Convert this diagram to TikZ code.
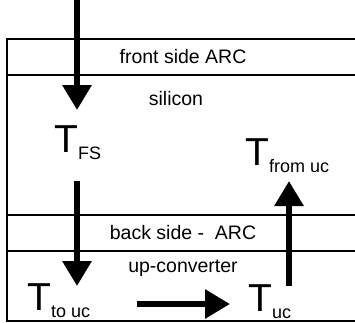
\documentclass[tikz,border=0pt]{standalone}
\usepackage{fontspec}
\setmainfont{Liberation Sans}
\usetikzlibrary{arrows.meta}
\tikzset{lb/.style={font=\fontsize{19.5}{19.5}\selectfont, inner sep=0pt}}
\tikzset{tt/.style={anchor=base west, inner sep=0pt, font=\fontsize{39}{39}\selectfont}}
\tikzset{ar/.style={line width=6pt, -{Triangle[width=28pt,length=25pt]}}}
\tikzset{ly/.style={line width=1.2pt}}
\newcommand{\tsub}[1]{\raisebox{-7pt}{\fontsize{18}{18}\selectfont #1}}

\begin{document}
\begin{tikzpicture}[x=1pt,y=-1pt]
                \useasboundingbox (0,0) rectangle (355,322);
                % layers
                \draw[ly] (355,39) -- (7,39) -- (7,321) -- (355,321);
                \draw[ly] (7,75) -- (355,75);
                \draw[ly] (7,215) -- (355,215);
                \draw[ly] (7,251) -- (355,251);
                \node[lb] (arcf) at (183,57) {front side ARC};
                \node[lb] (si) at (176,99) {silicon};
                \node[lb] (arcb) at (183,233) {back side -\ \ ARC};
                \node[lb] (uc) at (183,268) {up-converter};
                % T labels
                \node[tt] (tfs) at (54,152) {T\tsub{FS}};
                \node[tt] (tfrom) at (245,165) {T\tsub{from uc}};
                \node[tt] (tto) at (27,310) {T\tsub{to uc}};
                \node[tt] (tuc) at (248,311) {T\tsub{uc}};
                % arrows
                \coordinate (in) at (77,0);
                \coordinate (a1) at (77,110);
                \coordinate (a2s) at (77,181);
                \coordinate (a2e) at (77,286);
                \coordinate (a3s) at (289,286);
                \coordinate (a3e) at (289,181);
                \coordinate (a4s) at (137,304);
                \coordinate (a4e) at (230,304);
                \draw[ar] (in) -- (a1);
                \draw[ar] (a2s) -- (a2e);
                \draw[ar] (a3s) -- (a3e);
                \draw[ar] (a4s) -- (a4e);
            \end{tikzpicture}
\end{document}
